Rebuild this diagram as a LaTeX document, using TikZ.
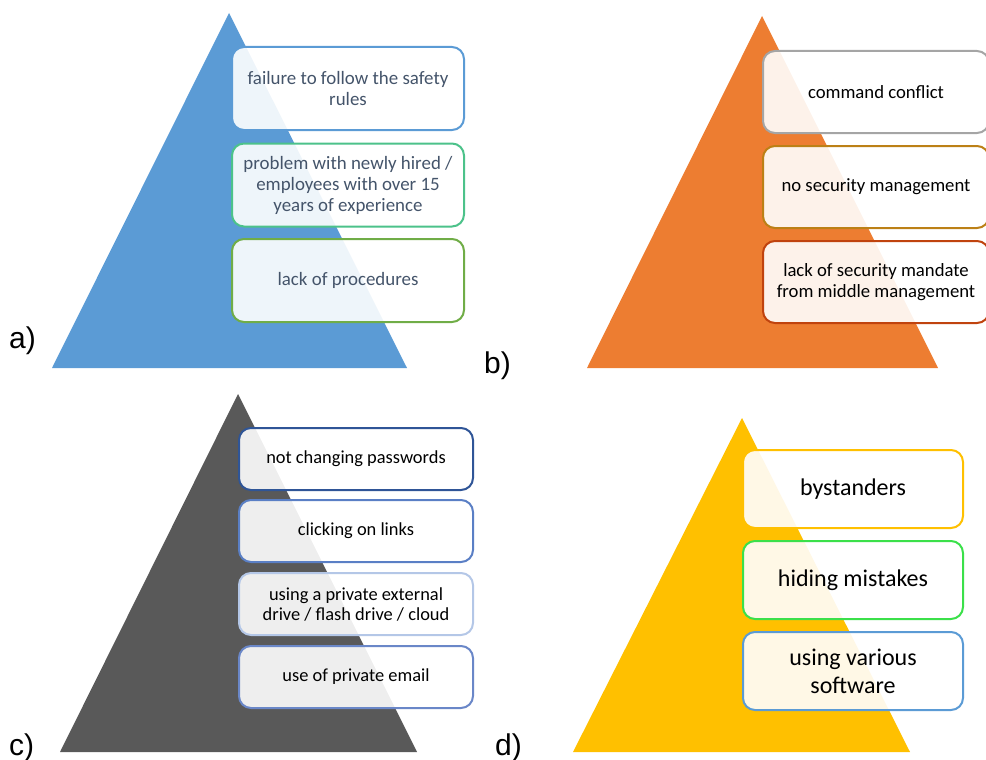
\documentclass[tikz,border=0pt]{standalone}
\usepackage{fontspec}
\setmainfont{Carlito}
\newfontfamily\labfont{Liberation Sans}
\definecolor{triA}{HTML}{5B9BD5}
\definecolor{triB}{HTML}{ED7D31}
\definecolor{triC}{HTML}{595959}
\definecolor{triD}{HTML}{FFC000}
\definecolor{slate}{HTML}{44546A}
\definecolor{edgeAa}{HTML}{5B9BD5}
\definecolor{edgeAb}{HTML}{4CC28A}
\definecolor{edgeAc}{HTML}{70AD47}
\definecolor{edgeBa}{HTML}{A5A5A5}
\definecolor{edgeBb}{HTML}{BC8016}
\definecolor{edgeBc}{HTML}{C0430E}
\definecolor{edgeCa}{HTML}{2F5597}
\definecolor{edgeCb}{HTML}{5A7FC5}
\definecolor{edgeCc}{HTML}{B4C7E7}
\definecolor{edgeCd}{HTML}{6A87C8}
\definecolor{edgeDa}{HTML}{FFC000}
\definecolor{edgeDb}{HTML}{3BE04A}
\definecolor{edgeDc}{HTML}{5B9BD5}

\begin{document}
\begin{tikzpicture}[x=1pt,y=-1pt]
        \tikzstyle{cause}=[draw,line width=2pt,rounded corners=12pt,fill=white,fill opacity=0.9,text opacity=1,align=center,inner sep=2pt]
        \tikzstyle{causeA}=[cause,minimum width=232pt,minimum height=83pt,text=slate,font=\fontsize{18.9}{21}\selectfont]
        \tikzstyle{causeB}=[cause,minimum width=226pt,minimum height=82pt,font=\fontsize{18.7}{21}\selectfont]
        \tikzstyle{causeC}=[cause,minimum width=234pt,minimum height=62pt,font=\fontsize{18.4}{20}\selectfont]
        \tikzstyle{causeD}=[cause,minimum width=220pt,minimum height=78pt,font=\fontsize{24}{28}\selectfont]
        \tikzstyle{tag}=[font=\labfont\fontsize{30}{32}\selectfont,anchor=base west,inner sep=0pt]
        \clip (0,0) rectangle (986,760);
        % a)
        \fill[triA] (229,13) -- (407,368) -- (52,368) -- cycle;
        \node[causeA,draw=edgeAa] (a1) at (348,88.5) {failure to follow the safety\\rules};
        \node[causeA,draw=edgeAb] (a2) at (348,185) {problem with newly hired /\\employees with over 15\\years of experience};
        \node[causeA,draw=edgeAc] (a3) at (348,280.5) {lack of procedures};
        \node[tag] (la) at (9,348) {a)};
        % b)
        \fill[triB] (762,16) -- (938,368) -- (587,368) -- cycle;
        \node[causeB,draw=edgeBa] (b1) at (876,92) {command conflict};
        \node[causeB,draw=edgeBb] (b2) at (876,187) {no security management};
        \node[causeB,draw=edgeBc] (b3) at (876,282) {lack of security mandate\\from middle management};
        \node[tag] (lb) at (484,373) {b)};
        % c)
        \fill[triC] (238,394) -- (417,752) -- (60,752) -- cycle;
        \node[causeC,draw=edgeCa] (c1) at (356,459) {not changing passwords};
        \node[causeC,draw=edgeCb] (c2) at (356,531) {clicking on links};
        \node[causeC,draw=edgeCc] (c3) at (356,604) {using a private external\\drive / flash drive / cloud};
        \node[causeC,draw=edgeCd] (c4) at (356,677) {use of private email};
        \node[tag] (lc) at (9,755) {c)};
        % d)
        \fill[triD] (742,418) -- (910,752) -- (573,752) -- cycle;
        \node[causeD,draw=edgeDa] (d1) at (853,489) {bystanders};
        \node[causeD,draw=edgeDb] (d2) at (853,580) {hiding mistakes};
        \node[causeD,draw=edgeDc] (d3) at (853,671) {using various\\software};
        \node[tag] (ld) at (495,755) {d)};
    \end{tikzpicture}
\end{document}
